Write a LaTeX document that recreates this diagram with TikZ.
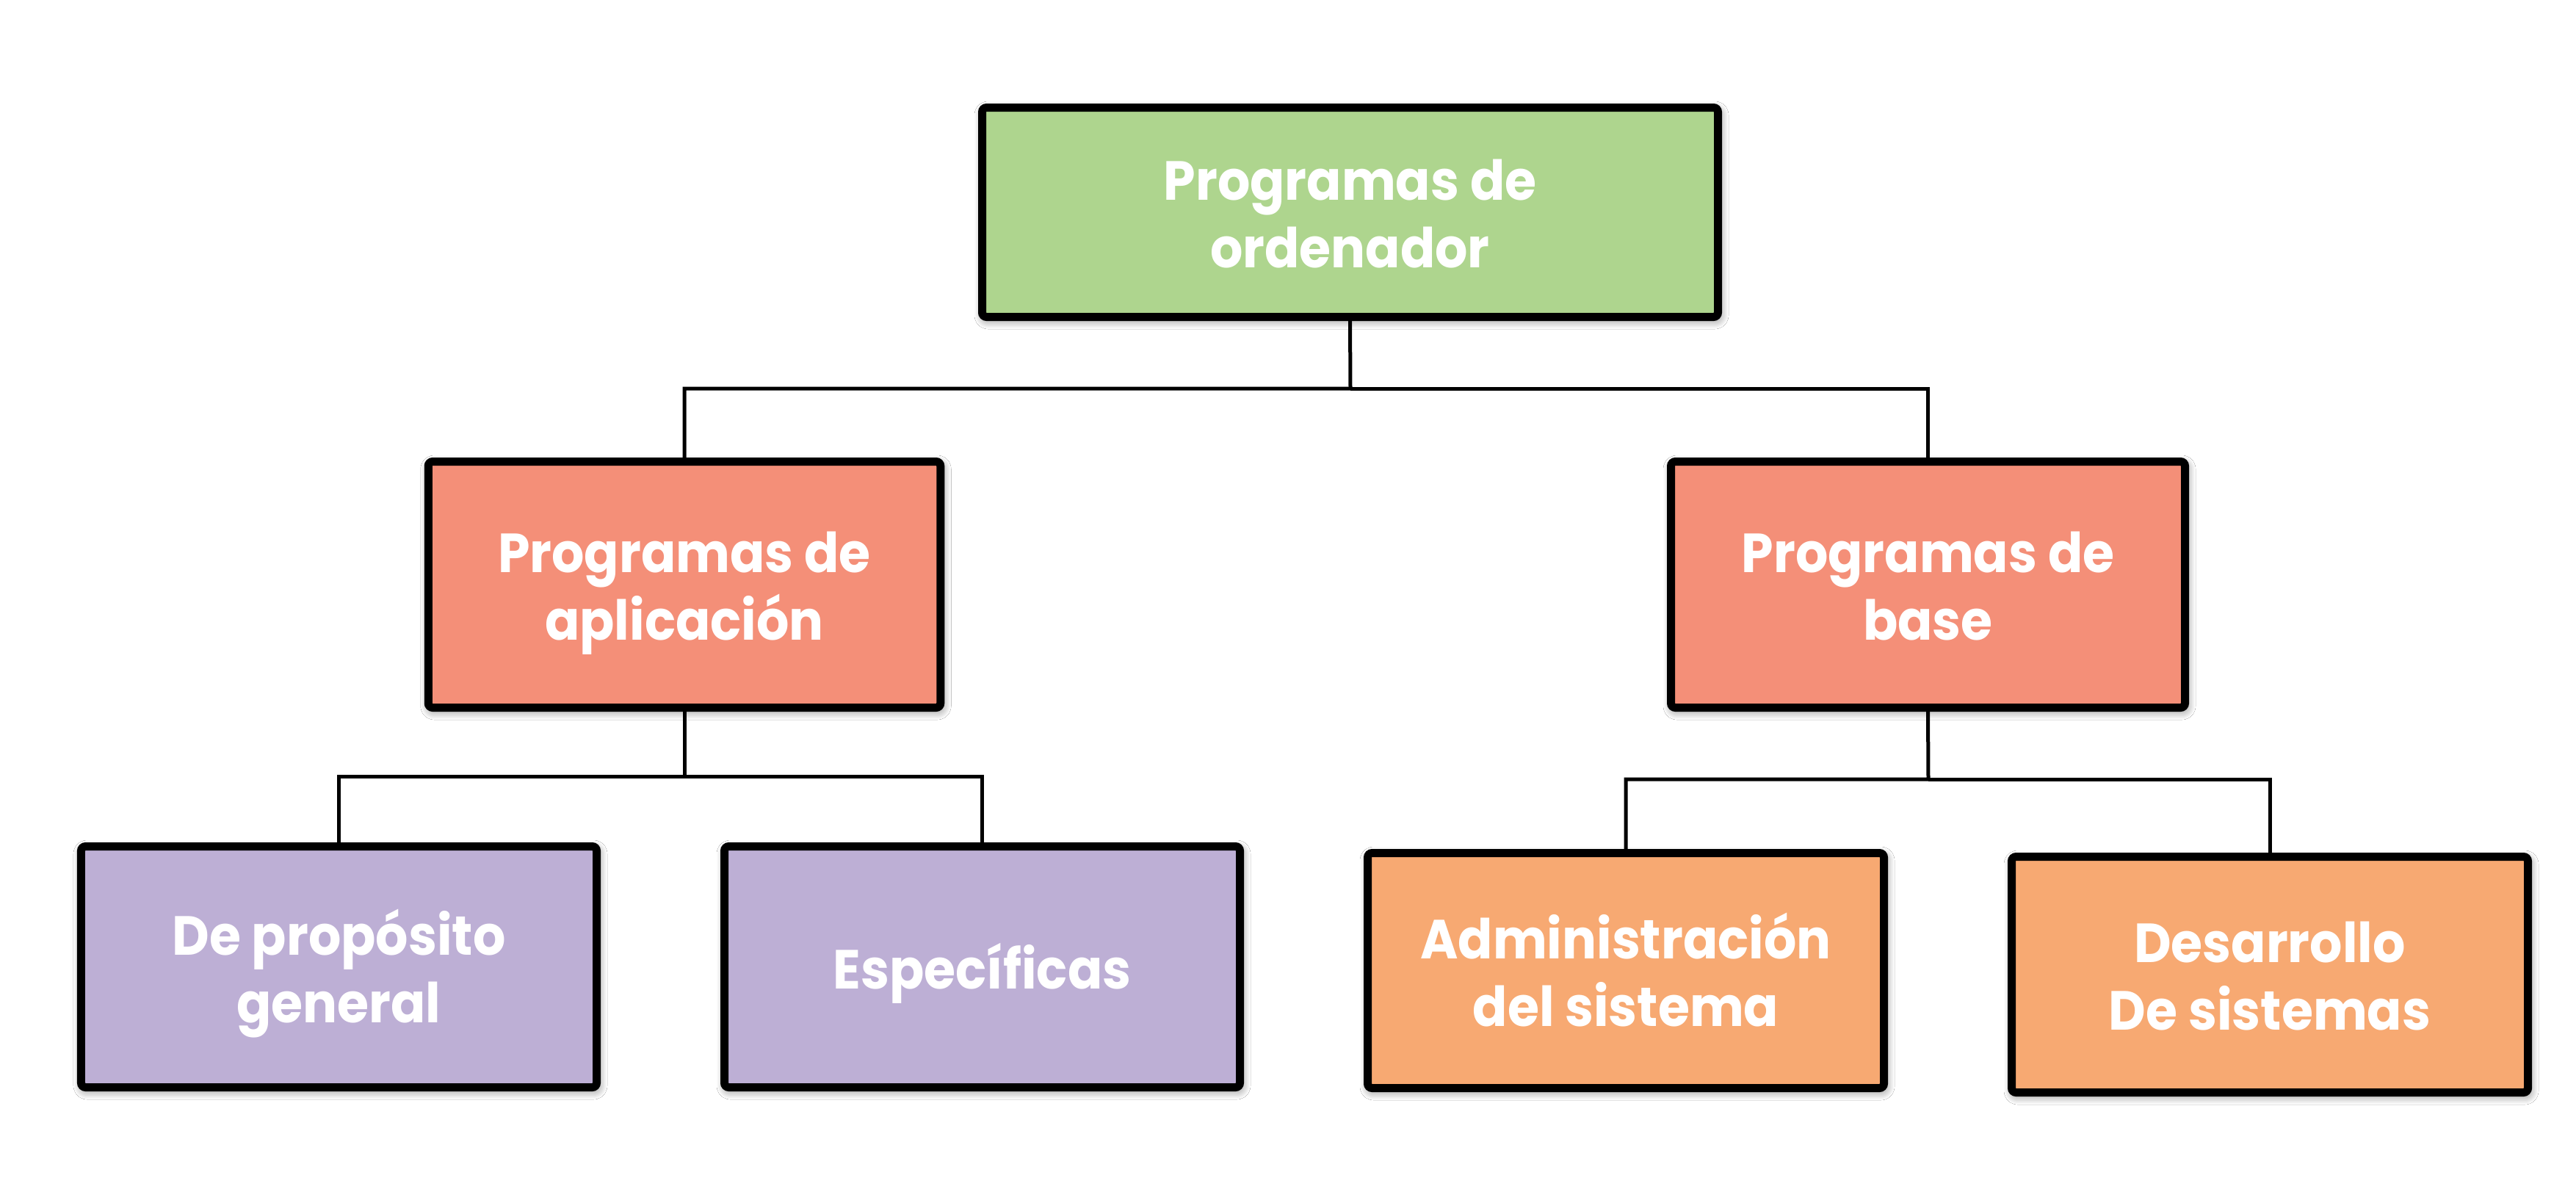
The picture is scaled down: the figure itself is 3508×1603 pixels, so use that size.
\documentclass[tikz,border=0pt]{standalone}
\usepackage{fontspec}
\setmainfont{Poppins}
\newfontfamily\boxfont{Poppins}[FakeStretch=0.93]
\usetikzlibrary{shadows.blur}
\newcommand\lnstrut{\rule[-4pt]{0pt}{16pt}}
\definecolor{cgreen}{RGB}{174,213,142}
\definecolor{csalmon}{RGB}{244,143,120}
\definecolor{cpurple}{RGB}{189,175,213}
\definecolor{corange}{RGB}{247,169,114}
\tikzset{
  box/.style={draw=black, line width=2.2pt, rounded corners=1.2pt, inner sep=0pt,
    blur shadow={shadow xshift=0.4pt, shadow yshift=-0.8pt, shadow blur radius=2.5pt,
      shadow blur steps=8, shadow opacity=55}},
  lbl/.style={text=white, font=\boxfont\bfseries\fontsize{15}{18.4}\selectfont,
    align=center, inner sep=0pt, yshift=-1.8pt},
  conn/.style={draw=black, line width=1pt}
}
\begin{document}
\begin{tikzpicture}[x=0.2pt, y=-0.2pt]
\fill[white] (0,0) rectangle (3508,1603);
\useasboundingbox (0,0) rectangle (3508,1603);
\node[box, fill=cgreen, minimum width=200.4pt, minimum height=57pt] (top) at (1838.5,289) {};
\node[box, fill=csalmon, minimum width=139.5pt, minimum height=67pt] (apl) at (932,796) {};
\node[box, fill=csalmon, minimum width=140pt, minimum height=67pt] (bas) at (2625.5,796) {};
\node[box, fill=cpurple, minimum width=140.4pt, minimum height=65.6pt] (gen) at (461.5,1316.5) {};
\node[box, fill=cpurple, minimum width=140.4pt, minimum height=65.6pt] (esp) at (1337.5,1316.5) {};
\node[box, fill=corange, minimum width=140.6pt, minimum height=64pt] (adm) at (2214,1321.5) {};
\node[box, fill=corange, minimum width=140.6pt, minimum height=64.2pt] (des) at (3091,1327) {};
\node[lbl] (topt) at (top.center) {\lnstrut Programas de\\\lnstrut ordenador};
\node[lbl] (aplt) at (apl.center) {\lnstrut Programas de\\\lnstrut aplicación};
\node[lbl] (bast) at (bas.center) {\lnstrut Programas de\\\lnstrut base};
\node[lbl] (gent) at (gen.center) {\lnstrut De propósito\\\lnstrut general};
\node[lbl] (espt) at (esp.center) {\lnstrut Específicas};
\node[lbl] (admt) at (adm.center) {\lnstrut Administración\\\lnstrut del sistema};
\node[lbl] (dest) at (des.center) {\lnstrut Desarrollo\\\lnstrut De sistemas};
\coordinate (j1) at (1839,529);
\coordinate (j2) at (932,1057);
\coordinate (j3) at (2626,1061);
\draw[conn] (top.south) -- (j1) -| (apl.north);
\draw[conn] (j1) -| (bas.north);
\draw[conn] (apl.south) -- (j2) -| (gen.north);
\draw[conn] (j2) -| (esp.north);
\draw[conn] (bas.south) -- (j3) -| (adm.north);
\draw[conn] (j3) -| (des.north);
\end{tikzpicture}
\end{document}
